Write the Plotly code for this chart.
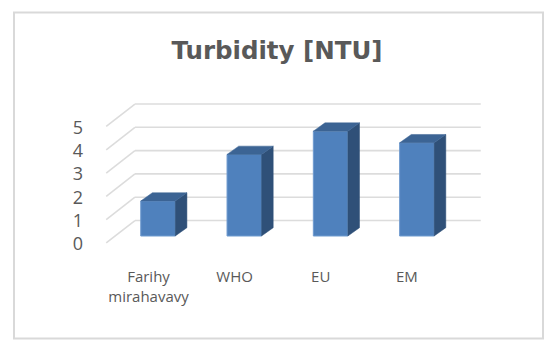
import plotly.graph_objects as go

categories = ["Farihy<br>mirahavavy", "WHO", "EU", "EM"]
turbidity = [1.5, 3.5, 4.5, 4.0]
grid_levels = [0, 1, 2, 3, 4, 5]
title_text = "Turbidity [NTU]"

W, H = 559, 352
L, R, T, B = 90, 69, 95, 102
PW, PH = W - L - R, H - T - B
PX0, PY0 = 158.0, 236.0      # pixel of category 0 / value 0
DX, DY = 86.3, 23.3          # pixels per category / per unit
xr = [(L - PX0) / DX, (W - R - PX0) / DX]
yr = [(PY0 - (H - B)) / DY, (PY0 - T) / DY]

BAR_W = 0.4
DEPTH_X, DEPTH_Y = 0.135, 0.357
FRONT_Y, BACK_Y = -0.30, 0.665
FRONT_X, BACK_X, END_X = -0.6, -0.267, 3.74
xs = list(range(len(categories)))

GRID = "#dcdcdc"
TXT = "#595959"
FACE, SIDE, TOP, EDGE = "#4f81bd", "#2f5078", "#3c6494", "#6f9bcf"

fig = go.Figure()
fig.add_trace(go.Bar(x=xs, y=turbidity, width=BAR_W, marker=dict(color=FACE, line=dict(color=EDGE, width=1)),
                     showlegend=False, hoverinfo="skip"))
for x, v in zip(xs, turbidity):
    r = x + BAR_W / 2
    l = x - BAR_W / 2
    fig.add_trace(go.Scatter(x=[r, r + DEPTH_X, r + DEPTH_X, r, r],
                             y=[0, DEPTH_Y, v + DEPTH_Y, v, 0],
                             mode="lines", fill="toself", fillcolor=SIDE,
                             line=dict(color=SIDE, width=0.5), showlegend=False, hoverinfo="skip"))
    fig.add_trace(go.Scatter(x=[l, l + DEPTH_X, r + DEPTH_X, r, l],
                             y=[v, v + DEPTH_Y, v + DEPTH_Y, v, v],
                             mode="lines", fill="toself", fillcolor=TOP,
                             line=dict(color=TOP, width=0.5), showlegend=False, hoverinfo="skip"))

# invisible trace that carries the category tick labels on their own axis
LX0, LDX = 148.5, 86.1
fig.add_trace(go.Scatter(x=xs, y=turbidity, xaxis="x2", mode="markers", marker=dict(opacity=0),
                         showlegend=False, hoverinfo="skip"))

shapes = []
for g in grid_levels:
    shapes.append(dict(type="line", layer="below", xref="x", yref="y", x0=BACK_X, x1=END_X,
                       y0=g + BACK_Y, y1=g + BACK_Y, line=dict(color=GRID, width=1.6)))
    shapes.append(dict(type="line", layer="below", xref="x", yref="y", x0=FRONT_X, x1=BACK_X,
                       y0=g + FRONT_Y, y1=g + BACK_Y, line=dict(color=GRID, width=1.6)))
shapes.append(dict(type="rect", layer="below", xref="paper", yref="paper",
                   x0=(14 - L) / PW, x1=(543 - L) / PW,
                   y0=(H - B - 338.5) / PH, y1=(H - B - 12.5) / PH,
                   line=dict(color="#d9d9d9", width=2), fillcolor="rgba(0,0,0,0)"))

fig.update_layout(
    width=W, height=H, margin=dict(l=L, r=R, t=T, b=B, autoexpand=False),
    paper_bgcolor="white", plot_bgcolor="white", barmode="overlay", shapes=shapes,
    title=dict(text="<b>" + title_text + "</b>", x=277 / W, xanchor="center", y=1 - 50.5 / H, yanchor="middle",
               font=dict(family="DejaVu Sans", size=24.5, color=TXT)),
    xaxis=dict(range=xr, showgrid=False, zeroline=False, showline=False, showticklabels=False, ticks=""),
    xaxis2=dict(range=[(L - LX0) / LDX, (W - R - LX0) / LDX], overlaying="x", side="bottom", anchor="y",
                tickmode="array", tickvals=xs, ticktext=categories, showgrid=False, zeroline=False, showline=False,
                ticks="outside", ticklen=13, tickcolor="rgba(0,0,0,0)", tickangle=0,
                tickfont=dict(family="Open Sans", size=15, color=TXT)),
    yaxis=dict(range=yr, showgrid=False, zeroline=False, showline=False,
               tickmode="array", tickvals=[g - 0.34 for g in grid_levels], ticktext=[str(g) for g in grid_levels],
               ticks="", ticklabelstandoff=6, tickfont=dict(family="Open Sans", size=18, color=TXT)),
)
fig.write_html("out.html", config=dict(displayModeBar=False),
               post_script="document.body.style.margin='0';")
